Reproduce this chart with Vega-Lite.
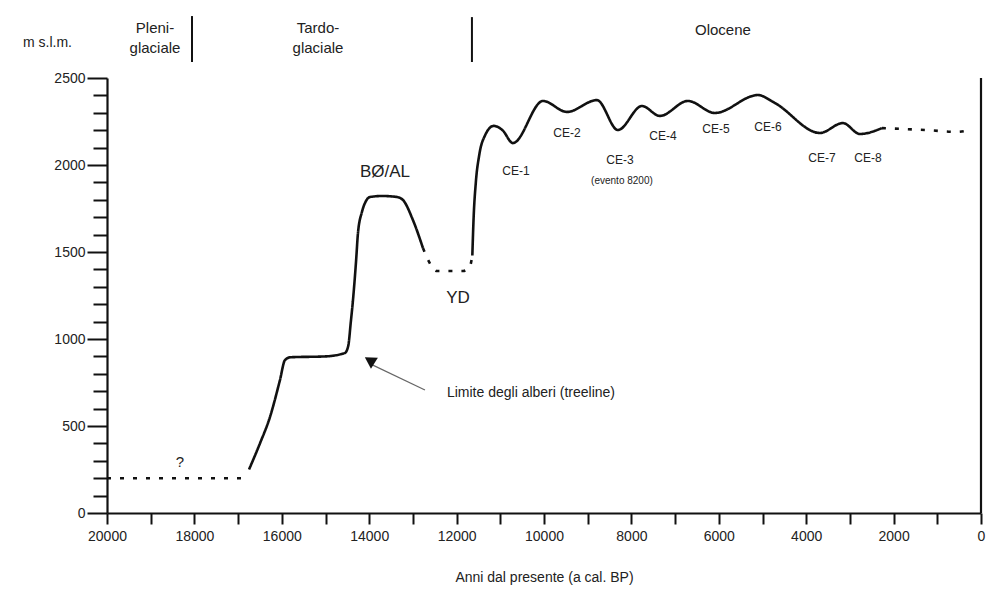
{
  "$schema": "https://vega.github.io/schema/vega-lite/v6.json",
  "width": 874,
  "height": 435,
  "autosize": "none",
  "padding": {"left": 107, "top": 78, "right": 6, "bottom": 80},
  "background": "white",
  "config": {
    "view": {"stroke": null},
    "font": "Liberation Sans",
    "text": {"font": "Liberation Sans", "color": "#222"}
  },
  "datasets": {
    "curve": [
      {"anni": 20000, "quota": 200, "tratto": "a", "tipo": "incerto"},
      {"anni": 16900, "quota": 200, "tratto": "a", "tipo": "incerto"},
      {"anni": 16750, "quota": 250, "tratto": "b", "tipo": "certo"},
      {"anni": 16500, "quota": 400, "tratto": "b", "tipo": "certo"},
      {"anni": 16270, "quota": 552, "tratto": "b", "tipo": "certo"},
      {"anni": 16042, "quota": 764, "tratto": "b", "tipo": "certo"},
      {"anni": 15927, "quota": 879, "tratto": "b", "tipo": "certo"},
      {"anni": 15800, "quota": 895, "tratto": "b", "tipo": "certo"},
      {"anni": 15000, "quota": 900, "tratto": "b", "tipo": "certo"},
      {"anni": 14555, "quota": 920, "tratto": "b", "tipo": "certo"},
      {"anni": 14480, "quota": 960, "tratto": "b", "tipo": "certo"},
      {"anni": 14420, "quota": 1100, "tratto": "b", "tipo": "certo"},
      {"anni": 14371, "quota": 1224, "tratto": "b", "tipo": "certo"},
      {"anni": 14300, "quota": 1450, "tratto": "b", "tipo": "certo"},
      {"anni": 14257, "quota": 1609, "tratto": "b", "tipo": "certo"},
      {"anni": 14166, "quota": 1730, "tratto": "b", "tipo": "certo"},
      {"anni": 14080, "quota": 1790, "tratto": "b", "tipo": "certo"},
      {"anni": 13983, "quota": 1816, "tratto": "b", "tipo": "certo"},
      {"anni": 13700, "quota": 1822, "tratto": "b", "tipo": "certo"},
      {"anni": 13365, "quota": 1816, "tratto": "b", "tipo": "certo"},
      {"anni": 13228, "quota": 1799, "tratto": "b", "tipo": "certo"},
      {"anni": 13000, "quota": 1684, "tratto": "b", "tipo": "certo"},
      {"anni": 12770, "quota": 1523, "tratto": "b", "tipo": "certo"},
      {"anni": 12770, "quota": 1523, "tratto": "c", "tipo": "incerto"},
      {"anni": 12600, "quota": 1430, "tratto": "c", "tipo": "incerto"},
      {"anni": 12450, "quota": 1391, "tratto": "c", "tipo": "incerto"},
      {"anni": 11850, "quota": 1391, "tratto": "c", "tipo": "incerto"},
      {"anni": 11700, "quota": 1414, "tratto": "c", "tipo": "incerto"},
      {"anni": 11640, "quota": 1480, "tratto": "c", "tipo": "incerto"},
      {"anni": 11640, "quota": 1480, "tratto": "d", "tipo": "certo"},
      {"anni": 11610, "quota": 1700, "tratto": "d", "tipo": "certo"},
      {"anni": 11560, "quota": 1900, "tratto": "d", "tipo": "certo"},
      {"anni": 11480, "quota": 2060, "tratto": "d", "tipo": "certo"},
      {"anni": 11350, "quota": 2170, "tratto": "d", "tipo": "certo"},
      {"anni": 11150, "quota": 2225, "tratto": "d", "tipo": "certo"},
      {"anni": 10950, "quota": 2200, "tratto": "d", "tipo": "certo"},
      {"anni": 10711, "quota": 2126, "tratto": "d", "tipo": "certo"},
      {"anni": 10024, "quota": 2368, "tratto": "d", "tipo": "certo"},
      {"anni": 9475, "quota": 2305, "tratto": "d", "tipo": "certo"},
      {"anni": 8789, "quota": 2373, "tratto": "d", "tipo": "certo"},
      {"anni": 8308, "quota": 2201, "tratto": "d", "tipo": "certo"},
      {"anni": 7759, "quota": 2339, "tratto": "d", "tipo": "certo"},
      {"anni": 7347, "quota": 2282, "tratto": "d", "tipo": "certo"},
      {"anni": 6707, "quota": 2368, "tratto": "d", "tipo": "certo"},
      {"anni": 6089, "quota": 2299, "tratto": "d", "tipo": "certo"},
      {"anni": 5105, "quota": 2402, "tratto": "d", "tipo": "certo"},
      {"anni": 4716, "quota": 2356, "tratto": "d", "tipo": "certo"},
      {"anni": 3687, "quota": 2184, "tratto": "d", "tipo": "certo"},
      {"anni": 3160, "quota": 2241, "tratto": "d", "tipo": "certo"},
      {"anni": 2771, "quota": 2178, "tratto": "d", "tipo": "certo"},
      {"anni": 2268, "quota": 2212, "tratto": "d", "tipo": "certo"},
      {"anni": 2268, "quota": 2212, "tratto": "e", "tipo": "incerto"},
      {"anni": 1200, "quota": 2200, "tratto": "e", "tipo": "incerto"},
      {"anni": 550, "quota": 2190, "tratto": "e", "tipo": "incerto"},
      {"anni": 200, "quota": 2205, "tratto": "e", "tipo": "incerto"}
    ],
    "etichette": [
      {"anni": 13640, "quota": 1960, "testo": "BØ/AL", "gruppo": "grande"},
      {"anni": 11969, "quota": 1236, "testo": "YD", "gruppo": "grande"},
      {"anni": 10642, "quota": 1966, "testo": "CE-1", "gruppo": "ce"},
      {"anni": 9475, "quota": 2184, "testo": "CE-2", "gruppo": "ce"},
      {"anni": 8262, "quota": 2029, "testo": "CE-3", "gruppo": "ce"},
      {"anni": 8216, "quota": 1908, "testo": "(evento 8200)", "gruppo": "piccolo"},
      {"anni": 7278, "quota": 2167, "testo": "CE-4", "gruppo": "ce"},
      {"anni": 6066, "quota": 2207, "testo": "CE-5", "gruppo": "ce"},
      {"anni": 4876, "quota": 2218, "testo": "CE-6", "gruppo": "ce"},
      {"anni": 3640, "quota": 2040, "testo": "CE-7", "gruppo": "ce"},
      {"anni": 2588, "quota": 2040, "testo": "CE-8", "gruppo": "ce"},
      {"anni": 18330, "quota": 293, "testo": "?", "gruppo": "medio"},
      {"anni": 18902, "quota": 2787, "testo": "Pleni-\nglaciale", "gruppo": "medio"},
      {"anni": 15172, "quota": 2787, "testo": "Tardo-\nglaciale", "gruppo": "medio"},
      {"anni": 5906, "quota": 2776, "testo": "Olocene", "gruppo": "medio"}
    ],
    "separatori": [
      {"anni": 18055, "da": 2592, "a": 2856},
      {"anni": 11649, "da": 2592, "a": 2850}
    ],
    "freccia": [
      {"anni": 12724, "quota": 707, "anni2": 14000, "quota2": 860}
    ],
    "punta": [
      {"anni": 13990, "quota": 878}
    ],
    "nota": [
      {"anni": 12221, "quota": 690, "testo": "Limite degli alberi (treeline)"}
    ],
    "bordo": [
      {"anni": 0, "da": 0, "a": 2500}
    ]
  },
  "layer": [
    {
      "data": {"name": "curve"},
      "mark": {"type": "line", "interpolate": "monotone", "color": "#111", "strokeWidth": 2.6},
      "encoding": {
        "x": {
          "field": "anni", "type": "quantitative",
          "scale": {"domain": [20000, 0], "nice": false},
          "axis": {
            "title": "Anni dal presente (a cal. BP)",
            "values": [20000, 19000, 18000, 17000, 16000, 15000, 14000, 13000, 12000, 11000, 10000, 9000, 8000, 7000, 6000, 5000, 4000, 3000, 2000, 1000, 0],
            "tickCount": 40,
            "labelExpr": "datum.value % 2000 === 0 ? datum.value : ''",
            "format": "d",
            "grid": false,
            "domainColor": "#111", "domainWidth": 2.2,
            "tickColor": "#111", "tickWidth": 2, "tickSize": 11,
            "labelFont": "Liberation Sans", "labelFontSize": 14, "labelColor": "#222",
            "labelPadding": 5, "labelFlush": false, "labelOverlap": false,
            "titleFont": "Liberation Sans", "titleFontSize": 14, "titleFontWeight": "normal", "titleColor": "#222",
            "titlePadding": 27
          }
        },
        "y": {
          "field": "quota", "type": "quantitative",
          "scale": {"domain": [0, 2500], "nice": false},
          "axis": {
            "title": "m s.l.m.",
            "titleAngle": 0, "titleAlign": "center", "titleBaseline": "middle",
            "titleX": -60, "titleY": -36,
            "values": [0, 100, 200, 300, 400, 500, 600, 700, 800, 900, 1000, 1100, 1200, 1300, 1400, 1500, 1600, 1700, 1800, 1900, 2000, 2100, 2200, 2300, 2400, 2500],
            "tickCount": 50,
            "labelExpr": "datum.value % 500 === 0 ? datum.value : ''",
            "format": "d",
            "grid": false,
            "domainColor": "#111", "domainWidth": 2.2,
            "tickColor": "#111", "tickWidth": 2,
            "tickSize": {"condition": {"test": "datum.value % 500 === 0", "value": 20}, "value": 14},
            "labelFont": "Liberation Sans", "labelFontSize": 14, "labelColor": "#222",
            "labelPadding": 2, "labelOverlap": false,
            "titleFont": "Liberation Sans", "titleFontSize": 14, "titleFontWeight": "normal", "titleColor": "#222"
          }
        },
        "detail": {"field": "tratto"},
        "strokeDash": {
          "field": "tipo", "type": "nominal",
          "scale": {"domain": ["certo", "incerto"], "range": [[1, 0], [4, 9]]},
          "legend": null
        }
      }
    },
    {
      "data": {"name": "bordo"},
      "mark": {"type": "rule", "color": "#111", "strokeWidth": 2.2},
      "encoding": {
        "x": {"field": "anni", "type": "quantitative"},
        "y": {"field": "da", "type": "quantitative"},
        "y2": {"field": "a"}
      }
    },
    {
      "data": {"name": "separatori"},
      "mark": {"type": "rule", "color": "#111", "strokeWidth": 2},
      "encoding": {
        "x": {"field": "anni", "type": "quantitative"},
        "y": {"field": "da", "type": "quantitative"},
        "y2": {"field": "a"}
      }
    },
    {
      "data": {"name": "freccia"},
      "mark": {"type": "rule", "color": "#666", "strokeWidth": 1.2},
      "encoding": {
        "x": {"field": "anni", "type": "quantitative"},
        "y": {"field": "quota", "type": "quantitative"},
        "x2": {"field": "anni2"},
        "y2": {"field": "quota2"}
      }
    },
    {
      "data": {"name": "punta"},
      "mark": {"type": "point", "shape": "triangle-up", "filled": true, "color": "#111", "size": 170, "angle": 302, "opacity": 1},
      "encoding": {
        "x": {"field": "anni", "type": "quantitative"},
        "y": {"field": "quota", "type": "quantitative"}
      }
    },
    {
      "data": {"name": "nota"},
      "mark": {"type": "text", "align": "left", "baseline": "middle", "fontSize": 14},
      "encoding": {
        "x": {"field": "anni", "type": "quantitative"},
        "y": {"field": "quota", "type": "quantitative"},
        "text": {"field": "testo"}
      }
    },
    {
      "data": {"name": "etichette"},
      "transform": [{"filter": "datum.gruppo === 'grande'"}],
      "mark": {"type": "text", "align": "center", "baseline": "middle", "fontSize": 17},
      "encoding": {
        "x": {"field": "anni", "type": "quantitative"},
        "y": {"field": "quota", "type": "quantitative"},
        "text": {"field": "testo"}
      }
    },
    {
      "data": {"name": "etichette"},
      "transform": [{"filter": "datum.gruppo === 'ce'"}],
      "mark": {"type": "text", "align": "center", "baseline": "middle", "fontSize": 12},
      "encoding": {
        "x": {"field": "anni", "type": "quantitative"},
        "y": {"field": "quota", "type": "quantitative"},
        "text": {"field": "testo"}
      }
    },
    {
      "data": {"name": "etichette"},
      "transform": [{"filter": "datum.gruppo === 'piccolo'"}],
      "mark": {"type": "text", "align": "center", "baseline": "middle", "fontSize": 10},
      "encoding": {
        "x": {"field": "anni", "type": "quantitative"},
        "y": {"field": "quota", "type": "quantitative"},
        "text": {"field": "testo"}
      }
    },
    {
      "data": {"name": "etichette"},
      "transform": [{"filter": "datum.gruppo === 'medio'"}],
      "mark": {"type": "text", "align": "center", "baseline": "middle", "fontSize": 15, "lineBreak": "\n", "lineHeight": 20},
      "encoding": {
        "x": {"field": "anni", "type": "quantitative"},
        "y": {"field": "quota", "type": "quantitative"},
        "text": {"field": "testo"}
      }
    }
  ]
}
